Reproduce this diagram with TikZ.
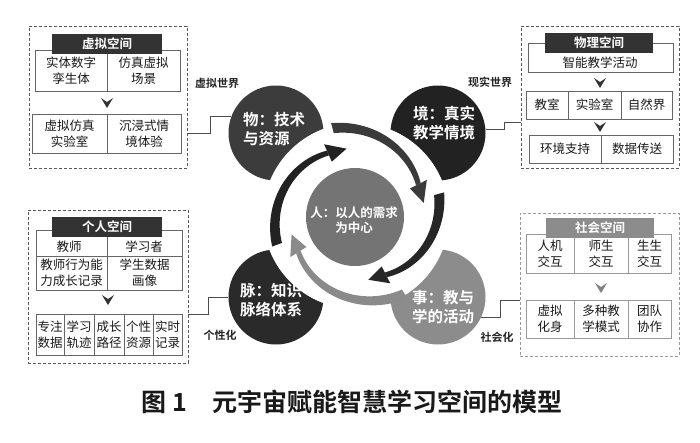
\documentclass[tikz,border=0pt]{standalone}
\usepackage{fontspec}
\setmainfont{Noto Sans CJK SC}[BoldFont={Noto Sans CJK SC Bold}]
\usetikzlibrary{calc}
\definecolor{cwu}{HTML}{3C3C3C}
\definecolor{cjing}{HTML}{222222}
\definecolor{cmai}{HTML}{2A2A2A}
\definecolor{cshi}{HTML}{8C8C8C}
\definecolor{cren}{HTML}{747474}
\definecolor{arrA}{HTML}{3A3A3A}
\definecolor{arrB}{HTML}{262626}
\definecolor{arrC}{HTML}{8A8A8A}
\definecolor{arrD}{HTML}{222222}
\newcommand\sparrow[5]{%
 \fill[#5] plot[domain=#1:#2,samples=40,variable=\t]
   ({356+(#3+(#4-#3)*(\t-#1)/(#2-#1)+5.2-2.6*(\t-#1)/(#2-#1))*cos(\t)},
    {216-(#3+(#4-#3)*(\t-#1)/(#2-#1)+5.2-2.6*(\t-#1)/(#2-#1))*sin(\t)})
   -- plot[domain=#2:#1,samples=40,variable=\t]
   ({356+(#3+(#4-#3)*(\t-#1)/(#2-#1)-5.2+2.6*(\t-#1)/(#2-#1))*cos(\t)},
    {216-(#3+(#4-#3)*(\t-#1)/(#2-#1)-5.2+2.6*(\t-#1)/(#2-#1))*sin(\t)}) -- cycle;
 \fill[#5] ({356+(#4+9.5)*cos(#2)},{216-(#4+9.5)*sin(#2)})
   -- ({356+(#4-1)*cos(#2-16)},{216-(#4-1)*sin(#2-16)})
   -- ({356+(#4-9.5)*cos(#2)},{216-(#4-9.5)*sin(#2)}) -- cycle;
}
\newcommand\chev[2]{\fill[#2,shift={#1}] (-6,-5) -- (0,-1) -- (6,-5) -- (0,5) -- cycle;}
\begin{document}
\begin{tikzpicture}[x=1pt,y=-1pt,
  outerbox/.style={draw=black!65, dash pattern=on 3pt off 2pt, line width=0.8pt, inner sep=0pt},
  cell/.style={draw=black!60, line width=0.8pt, inner sep=0pt, align=center,
     font=\fontsize{12.5}{16}\selectfont, text=black!90},
  ctxt/.style={inner sep=0pt, align=center, font=\fontsize{12.5}{16}\selectfont, text=black!90},
  ttl/.style={fill=black!80, text=white, font=\bfseries\fontsize{12.5}{14}\selectfont,
     inner sep=0pt, minimum height=20pt},
  lbl/.style={inner sep=0pt, font=\bfseries\fontsize{11}{13}\selectfont, text=black!85},
  circ/.style={circle, inner sep=0pt, minimum size=95pt},
  ctext/.style={inner sep=0pt, text=white, font=\bfseries\fontsize{15.5}{19.5}\selectfont, align=left},
  conn/.style={draw=black!70, line width=0.8pt}]
\useasboundingbox (0,0) rectangle (700,442);
\fill[white] (0,0) rectangle (700,442);

% ---------- central model ----------
\node[circ, fill=cwu] (wu) at (276,133) {};
\node[circ, fill=cjing] (jing) at (438,133) {};
\node[circ, fill=cmai] (mai) at (276,297) {};
\node[circ, fill=cshi] (shi) at (438,297) {};
\fill[white] (356,216) circle[radius=93];
\node[circle, inner sep=0pt, minimum size=98pt, fill=cren] (ren) at (355,217) {};

\sparrow{105}{27}{91}{70}{arrA}
\sparrow{15}{-63}{86}{66}{arrB}
\sparrow{-58}{-148}{92}{68}{arrC}
\sparrow{200}{114}{84}{69}{arrD}

\node[ctext] (wut) at (274,129) {物：技术\\与资源};
\node[ctext] (jingt) at (444,123) {境：真实\\教学情境};
\node[ctext] (mait) at (271,300) {脉：知识\\脉络体系};
\node[ctext] (shit) at (443,307) {事：教与\\学的活动};
\node[inner sep=0pt, text=white, align=center, font=\bfseries\fontsize{12.5}{15}\selectfont] (rent) at (354,220) {人：以人的需求\\为中心};

% ---------- virtual space (top left) ----------
\node[outerbox, minimum width=158pt, minimum height=142pt] (vbox) at (108,97) {};
\node[cell, minimum width=72pt, minimum height=41pt] (v11) at (71,70.5) {实体数字\\孪生体};
\node[cell, minimum width=73pt, minimum height=41pt] (v12) at (143.5,70.5) {仿真虚拟\\场景};
\node[ttl, minimum width=110pt] (vt) at (107,44) {虚拟空间};
\chev{(107,103)}{black!80}
\node[cell, minimum width=75pt, minimum height=39pt] (v21) at (69.5,133.5) {虚拟仿真\\实验室};
\node[cell, minimum width=74pt, minimum height=39pt] (v22) at (144,133.5) {沉浸式情\\境体验};
\node[lbl] (vl) at (217,83) {虚拟世界};
\draw[conn] (vbox.east |- v22.center) -- ++(23,0) |- (wu.160);

% ---------- physical space (top right) ----------
\node[outerbox, minimum width=158pt, minimum height=142pt] (pbox) at (600,97) {};
\node[cell, minimum width=145pt, minimum height=29pt] (p1) at (600.5,57.5) {};
\node[ttl, minimum width=108pt] (pt) at (599,43) {物理空间};
\node[ctxt] (p1t) at (600,63) {智能教学活动};
\chev{(600,83)}{black!80}
\node[cell, minimum width=42pt, minimum height=28pt] (p21) at (547,105) {教室};
\node[cell, minimum width=53pt, minimum height=28pt] (p22) at (594.5,105) {实验室};
\node[cell, minimum width=51pt, minimum height=28pt] (p23) at (646.5,105) {自然界};
\chev{(600,127)}{black!80}
\node[cell, minimum width=72pt, minimum height=28pt] (p31) at (565,149) {环境支持};
\node[cell, minimum width=72pt, minimum height=28pt] (p32) at (637,149) {数据传送};
\node[lbl] (pl) at (490,82) {现实世界};
\draw[conn] (jing.4) -- ++(19,0) |- ($(pbox.west)+(0,25)$);

% ---------- personal space (bottom left) ----------
\node[outerbox, minimum width=160pt, minimum height=153pt] (ibox) at (108,286.5) {};
\node[cell, minimum width=71pt, minimum height=26pt] (i11) at (71.5,243) {};
\node[cell, minimum width=75pt, minimum height=26pt] (i12) at (144.5,243) {};
\node[cell, minimum width=71pt, minimum height=34pt] (i21) at (71.5,273) {教师行为能\\力成长记录};
\node[cell, minimum width=75pt, minimum height=34pt] (i22) at (144.5,273) {学生数据\\画像};
\node[ttl, minimum width=110pt] (it) at (107,227) {个人空间};
\node[ctxt] (i11t) at (69,247) {教师};
\node[ctxt] (i12t) at (144,247) {学习者};
\chev{(108,300)}{black!80}
\node[cell, minimum width=28pt, minimum height=41pt] (i31) at (50,334.5) {专注\\数据};
\node[cell, minimum width=30pt, minimum height=41pt] (i32) at (79,334.5) {学习\\轨迹};
\node[cell, minimum width=30pt, minimum height=41pt] (i33) at (109,334.5) {成长\\路径};
\node[cell, minimum width=29pt, minimum height=41pt] (i34) at (138.5,334.5) {个性\\资源};
\node[cell, minimum width=29pt, minimum height=41pt] (i35) at (167.5,334.5) {实时\\记录};
\node[lbl] (il) at (220,335) {个性化};
\draw[conn] ($(ibox.east)+(0,27.5)$) -- ++(20,0) |- (mai.west);

% ---------- social space (bottom right) ----------
\node[outerbox, draw=black!40, minimum width=159pt, minimum height=143pt] (sbox) at (599.5,284.5) {};
\node[cell, draw=black!40, minimum width=48pt, minimum height=39pt] (s11) at (550,253.5) {人机\\交互};
\node[cell, draw=black!40, minimum width=54pt, minimum height=39pt] (s12) at (601,253.5) {师生\\交互};
\node[cell, draw=black!40, minimum width=43pt, minimum height=39pt] (s13) at (649.5,253.5) {生生\\交互};
\node[ttl, fill=cshi, minimum width=108pt] (st) at (600,228) {社会空间};
\chev{(601,288)}{black!50}
\node[cell, draw=black!40, minimum width=48pt, minimum height=38pt] (s21) at (550,319) {虚拟\\化身};
\node[cell, draw=black!40, minimum width=54pt, minimum height=38pt] (s22) at (601,319) {多种教\\学模式};
\node[cell, draw=black!40, minimum width=43pt, minimum height=38pt] (s23) at (649.5,319) {团队\\协作};
\node[lbl] (sl) at (497,337) {社会化};
\draw[conn] (shi.-25) -- ++(19.5,0) |- ($(sbox.west)+(0,15.5)$);

% ---------- caption ----------
\node[inner sep=0pt, font=\bfseries\fontsize{25}{28}\selectfont, text=black!90] (cap) at (352,402) {图 1　元宇宙赋能智慧学习空间的模型};
\end{tikzpicture}
\end{document}
